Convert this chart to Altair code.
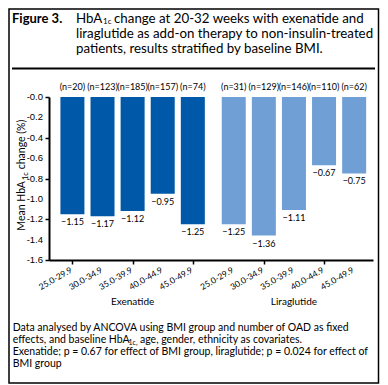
import altair as alt
import pandas as pd

# ---------------- data ----------------
bmi_groups = ["25.0-29.9", "30.0-34.9", "35.0-39.9", "40.0-44.9", "45.0-49.9"]
drugs = ["Exenatide", "Liraglutide"]
exenatide_change = [-1.15, -1.17, -1.12, -0.95, -1.25]
liraglutide_change = [-1.25, -1.36, -1.11, -0.67, -0.75]
exenatide_n = [20, 123, 185, 157, 74]
liraglutide_n = [31, 129, 146, 110, 62]
y_ticks = [0.0, -0.2, -0.4, -0.6, -0.8, -1.0, -1.2, -1.4, -1.6]

title_bold = "Figure 3."
title_l1a = "HbA"
title_sub = "1c"
title_l1b = "change at 20-32 weeks with exenatide and"
title_l2 = "liraglutide as add-on therapy to non-insulin-treated"
title_l3 = "patients, results stratified by baseline BMI."
ytitle_a = "Mean HbA"
ytitle_sub = "1c"
ytitle_b = "change (%)"
foot_l1 = "Data analysed by ANCOVA using BMI group and number of OAD as fixed"
foot_l2a = "effects, and baseline HbA"
foot_l2sub = "1c,"
foot_l2b = "age, gender, ethnicity as covariates."
foot_l3 = "Exenatide; p = 0.67 for effect of BMI group, liraglutide; p = 0.024 for effect of"
foot_l4 = "BMI group"

# ---------------- layout ----------------
GROUP_GAP = 5.36          # slot offset of the second drug group
FONT = "Lato"
W, H = 324, 163
PAD = {"left": 41, "top": 89, "right": 7, "bottom": 125}
colors = ["#0058a8", "#6f9fd5"]

rows = []
for g, (drug, vals, ns) in enumerate([(drugs[0], exenatide_change, exenatide_n),
                                       (drugs[1], liraglutide_change, liraglutide_n)]):
    for i, (b, v, n) in enumerate(zip(bmi_groups, vals, ns)):
        rows.append({"drug": drug, "bmi": b, "change": v, "nlab": f"(n={n})",
                     "pos": i + g * GROUP_GAP})
df = pd.DataFrame(rows)
positions = df["pos"].tolist()
grp = df.groupby("drug", as_index=False)["pos"].mean()
yt = pd.DataFrame({"v": y_ticks})
yt["lab"] = ["-" + f"{abs(v):.1f}" for v in y_ticks]

xscale = alt.Scale(domain=[-0.612, 9.82], nice=False, zero=False)
yscale = alt.Scale(domain=[-1.6, 0], nice=False)

x_axis = alt.Axis(values=positions, labels=False, title=None, grid=False,
                  domainColor="black", domainWidth=2,
                  tickColor="black", tickWidth=1.5, tickSize=4)
y_axis = alt.Axis(values=y_ticks, labels=False, title=None, grid=False,
                  domainColor="black", domainWidth=2,
                  tickColor="black", tickWidth=1.5, tickSize=4)

base = alt.Chart(df)
bars = base.mark_bar(size=24).encode(
    x=alt.X("pos:Q", scale=xscale, axis=x_axis),
    y=alt.Y("change:Q", scale=yscale, axis=y_axis),
    color=alt.Color("drug:N", scale=alt.Scale(domain=drugs, range=colors), legend=None),
)
vals = base.mark_text(font=FONT, fontSize=9, baseline="middle", dy=8, color="black").encode(
    x="pos:Q", y="change:Q", text=alt.Text("change:Q", format=".2f"))
nlabs = base.mark_text(font=FONT, fontSize=9, baseline="middle", color="black").encode(
    x="pos:Q", y=alt.value(-10), text="nlab:N")
xlabs = base.mark_text(font=FONT, fontSize=8.5, align="right", baseline="top", angle=330,
                       dx=-3.5, color="black").encode(
    x="pos:Q", y=alt.value(H + 4), text="bmi:N")
ylabs = alt.Chart(yt).mark_text(font="Liberation Sans", fontSize=9.5, align="right",
                                baseline="middle", color="black").encode(
    x=alt.value(-6), y=alt.Y("v:Q", scale=yscale), text="lab:N")
glabs = alt.Chart(grp).mark_text(font=FONT, fontSize=10, baseline="middle", color="black").encode(
    x="pos:Q", y=alt.value(205), text="drug:N")


def txt(t, x, y, size, weight="normal", angle=0, align="left", baseline="alphabetic", font=FONT):
    return alt.Chart(alt.Data(values=[{"t": t}])).mark_text(
        align=align, baseline=baseline, fontSize=size, font=font, fontWeight=weight,
        angle=angle, color="black").encode(x=alt.value(x), y=alt.value(y), text="t:N")


one = alt.Data(values=[{"a": 1}])
frame = alt.Chart(one).mark_rect(filled=False, stroke="black", strokeWidth=1.5).encode(
    x=alt.value(-PAD["left"] + 1), x2=alt.value(W + PAD["right"] - 1.5),
    y=alt.value(-PAD["top"] + 1), y2=alt.value(H + PAD["bottom"] - 2))
rule = alt.Chart(one).mark_rule(color="black", strokeWidth=2).encode(
    x=alt.value(-37), x2=alt.value(326), y=alt.value(-28.5))

texts = [
    txt(title_bold, -37, -74.3, 13, weight="bold"),
    txt(title_l1a, 27, -74.3, 13.3),
    txt(title_sub, 54, -73, 8),
    txt(title_l1b, 65, -74.3, 13.3),
    txt(title_l2, 27, -59, 13.3),
    txt(title_l3, 27, -44.3, 13.3),
    txt(ytitle_a, -24, 133.7, 10.5, angle=270),
    txt(ytitle_sub, -21.5, 83, 7.5, angle=270),
    txt(ytitle_b, -24, 72.3, 10.5, angle=270),
    txt(foot_l1, -36.3, 234, 10.5),
    txt(foot_l2a, -36.3, 246, 10.5),
    txt(foot_l2sub, 79.5, 247.8, 7),
    txt(foot_l2b, 91, 246, 10.5),
    txt(foot_l3, -36.3, 258, 10.5),
    txt(foot_l4, -36.3, 270, 10.5),
]

chart = alt.layer(bars, vals, nlabs, xlabs, ylabs, glabs, frame, rule, *texts).properties(
    width=W, height=H, padding=PAD, autosize=alt.AutoSizeParams(type="none"),
    background="white",
).configure_view(stroke=None)

chart.save("out.html", embed_options={"renderer": "svg", "actions": False})
